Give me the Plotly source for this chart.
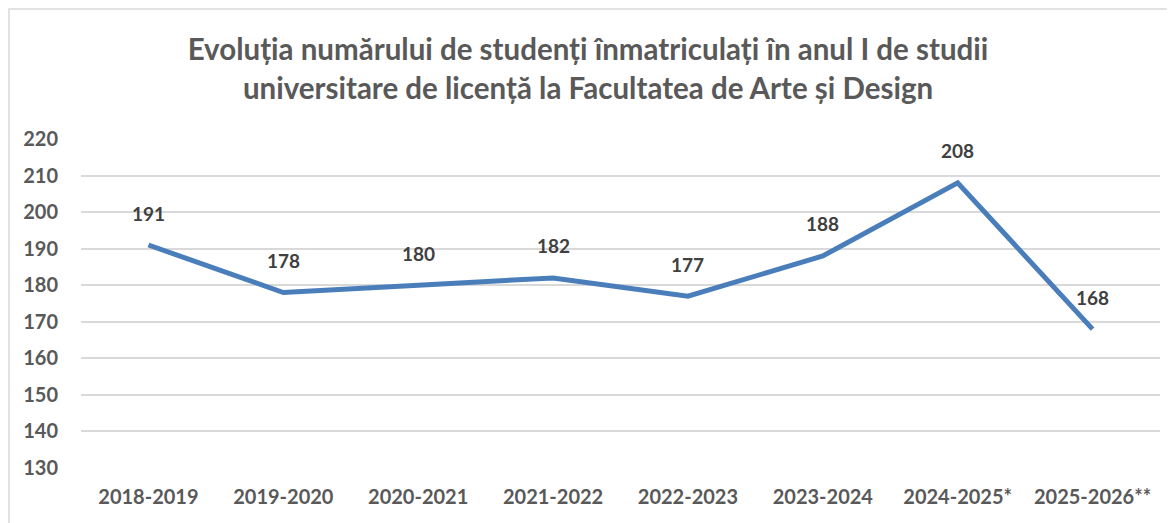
import plotly.graph_objects as go

years = ["2018-2019", "2019-2020", "2020-2021", "2021-2022", "2022-2023",
         "2023-2024", "2024-2025*", "2025-2026**"]
students = [191, 178, 180, 182, 177, 188, 208, 168]
y_ticks = [130, 140, 150, 160, 170, 180, 190, 200, 210, 220]

FONT = "Lato, Open Sans, sans-serif"
W, H = 1175, 523
ML, MR, MT, MB = 73, 23, 131, 63

fig = go.Figure()
fig.add_trace(go.Scatter(
    x=years, y=students, mode="lines",
    line=dict(color="#4A7EBB", width=5),
    hoverinfo="x+y", showlegend=False,
))

for xv, yv in zip(years, students):
    fig.add_annotation(x=xv, y=yv, text=str(yv), showarrow=False,
                       yshift=32,
                       font=dict(family=FONT, size=19, color="#404040", weight="bold"))

pw = W - ML - MR
ph = H - MT - MB
fig.add_shape(type="rect", xref="paper", yref="paper",
              x0=(1 - ML) / pw, x1=(1164 - ML) / pw,
              y0=-(H + 20 - MT - ph) / ph, y1=1 + (MT - 1) / ph,
              line=dict(color="#D9D9D9", width=1.5), fillcolor="rgba(0,0,0,0)",
              layer="below")

fig.update_layout(
    width=W, height=H,
    margin=dict(l=ML, r=MR, t=MT, b=MB, autoexpand=False),
    paper_bgcolor="white", plot_bgcolor="white",
    title=dict(
        text="<b>Evoluția numărului de studenți înmatriculați în anul I de studii<br>universitare de licență la Facultatea de Arte și Design</b>",
        x=(588 - 8) / W, xanchor="center", y=0.9, yanchor="middle",
        font=dict(family=FONT, size=29.5, color="#595959"),
    ),
    xaxis=dict(
        type="category", range=[-0.5, 7.5], showgrid=False, zeroline=False, showline=False,
        tickfont=dict(family=FONT, size=20, color="#595959", weight="bold"),
        ticklabelstandoff=15, automargin=False,
    ),
    yaxis=dict(
        range=[130, 220], tickvals=y_ticks, showgrid=True,
        gridcolor="#D9D9D9", gridwidth=1.5, zeroline=False, showline=False,
        tickfont=dict(family=FONT, size=20, color="#595959", weight="bold"),
        ticklabelstandoff=22, automargin=False,
    ),
    font=dict(family=FONT),
)

fig.write_html("out.html")
